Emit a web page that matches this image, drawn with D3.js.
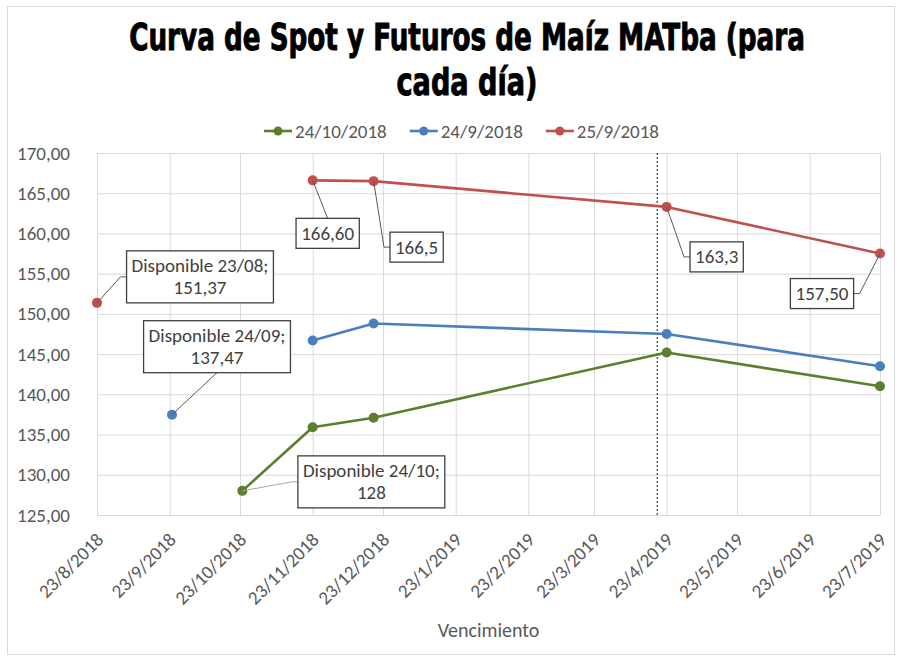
<!DOCTYPE html>
<html>
<head>
<meta charset="utf-8">
<script src="https://cdn.jsdelivr.net/npm/d3@7"></script>
<style>
  body { margin: 0; background: #fff; }
  svg { display: block; }
</style>
</head>
<body>
<div id="chart"></div>
<script>
// datos
const fechas = ["2018-08-23", "2018-09-24", "2018-10-24", "2018-11-23", "2018-12-19", "2019-04-23", "2019-07-23"];
const serie_24_10_2018 = [null, null, 128, 135.9, 137.1, 145.2, 141.0];
const serie_24_9_2018 = [null, 137.47, null, 146.7, 148.8, 147.5, 143.5];
const serie_25_9_2018 = [151.37, null, null, 166.6, 166.5, 163.3, 157.5];
const nombresSeries = ["24/10/2018", "24/9/2018", "25/9/2018"];
const coloresSeries = ["#5b7f2c", "#4a7ebf", "#c0504d"];

const ticksX = ["2018-08-23", "2018-09-23", "2018-10-23", "2018-11-23", "2018-12-23", "2019-01-23",
                "2019-02-23", "2019-03-23", "2019-04-23", "2019-05-23", "2019-06-23", "2019-07-23"];
const ticksY = [125, 130, 135, 140, 145, 150, 155, 160, 165, 170];
const fechaMarca = "2019-04-19"; // linea punteada

// etiquetas: serie, punto, texto
const etiquetas = [
  { serie: 2, i: 0, texto: ["Disponible 23/08;", "151,37"] },
  { serie: 1, i: 1, texto: ["Disponible 24/09;", "137,47"] },
  { serie: 2, i: 3, texto: ["166,60"] },
  { serie: 2, i: 4, texto: ["166,5"] },
  { serie: 0, i: 2, texto: ["Disponible 24/10;", "128"] },
  { serie: 2, i: 5, texto: ["163,3"] },
  { serie: 2, i: 6, texto: ["157,50"] }
];
// posición del centro de cada caja respecto al punto, y lado de la guía
const posEtiquetas = [
  { dx: 103, dy: -26, lado: "left" },
  { dx: 45, dy: -68, lado: "bottom" },
  { dx: 15, dy: 53, lado: "top" },
  { dx: 43, dy: 66, lado: "left" },
  { dx: 129, dy: -9, lado: "left" },
  { dx: 50, dy: 50, lado: "left" },
  { dx: -58, dy: 40, lado: "right" }
];

function drawChart() {
  const width = 899, height = 658;
  const margin = { top: 153, right: 19, bottom: 143, left: 97 };

  const parse = d3.timeParse("%Y-%m-%d");
  const series = [serie_24_10_2018, serie_24_9_2018, serie_25_9_2018].map((vals, k) => ({
    nombre: nombresSeries[k],
    color: coloresSeries[k],
    puntos: vals.map((v, i) => ({ fecha: parse(fechas[i]), valor: v }))
  }));

  const svg = d3.select("#chart").append("svg")
    .attr("width", width)
    .attr("height", height)
    .attr("viewBox", [0, 0, width, height]);

  // marco exterior
  svg.append("rect")
    .attr("x", 7.5).attr("y", 6.5)
    .attr("width", width - 12).attr("height", height - 10)
    .attr("fill", "#fff")
    .attr("stroke", "#d9d9d9");

  const x = d3.scaleTime()
    .domain([parse(ticksX[0]), parse(ticksX[ticksX.length - 1])])
    .range([margin.left, width - margin.right]);
  const y = d3.scaleLinear()
    .domain([ticksY[0], ticksY[ticksY.length - 1]])
    .range([height - margin.bottom, margin.top]);

  const fontTxt = "Carlito, Calibri, 'Open Sans', sans-serif";
  const fs = 19;
  const locale = d3.formatLocale({ decimal: ",", thousands: ".", grouping: [3], currency: ["$", ""] });
  const fmtY = locale.format(".2f");
  const fmtX = d => `${d.getDate()}/${d.getMonth() + 1}/${d.getFullYear()}`;

  // grilla horizontal
  svg.append("g")
    .attr("transform", `translate(${margin.left},0)`)
    .call(d3.axisLeft(y).tickValues(ticksY).tickSize(-(width - margin.left - margin.right)).tickFormat(""))
    .call(g => g.select(".domain").remove())
    .call(g => g.selectAll("line").attr("stroke", "#d9d9d9"));

  // grilla vertical
  svg.append("g")
    .attr("transform", `translate(0,${margin.top})`)
    .call(d3.axisBottom(x).tickValues(ticksX.map(parse)).tickSize(height - margin.top - margin.bottom).tickFormat(""))
    .call(g => g.select(".domain").remove())
    .call(g => g.selectAll("line").attr("stroke", "#d9d9d9"));

  // eje Y
  svg.append("g")
    .attr("transform", `translate(${margin.left - 24},0)`)
    .call(d3.axisLeft(y).tickValues(ticksY).tickSize(0).tickFormat(fmtY))
    .call(g => g.select(".domain").remove())
    .call(g => g.selectAll("text")
      .attr("font-family", fontTxt)
      .attr("font-size", fs)
      .attr("fill", "#595959"));

  // eje X
  svg.append("g")
    .attr("transform", `translate(0,${height - margin.bottom})`)
    .call(d3.axisBottom(x).tickValues(ticksX.map(parse)).tickSize(0).tickFormat(fmtX))
    .call(g => g.select(".domain").remove())
    .call(g => g.selectAll("text")
      .attr("font-family", fontTxt)
      .attr("font-size", fs)
      .attr("fill", "#595959")
      .attr("text-anchor", "end")
      .attr("dy", null)
      .attr("y", 0)
      .attr("transform", "translate(7,26) rotate(-45)"));

  svg.append("text")
    .attr("x", (margin.left + width - margin.right) / 2)
    .attr("y", 637)
    .attr("text-anchor", "middle")
    .attr("font-family", fontTxt)
    .attr("font-size", 20)
    .attr("fill", "#595959")
    .text("Vencimiento");

  // línea punteada
  svg.append("line")
    .attr("x1", x(parse(fechaMarca))).attr("x2", x(parse(fechaMarca)))
    .attr("y1", y.range()[1]).attr("y2", y.range()[0])
    .attr("stroke", "#595959")
    .attr("stroke-width", 1.4)
    .attr("stroke-dasharray", "2,2");

  // series
  const line = d3.line()
    .defined(d => d.valor != null)
    .x(d => x(d.fecha))
    .y(d => y(d.valor));

  const gs = svg.append("g").selectAll("g")
    .data(series)
    .join("g");

  gs.append("path")
    .attr("d", d => line(d.puntos))
    .attr("fill", "none")
    .attr("stroke", d => d.color)
    .attr("stroke-width", 2.6)
    .attr("stroke-linejoin", "round");

  gs.selectAll("circle")
    .data(d => d.puntos.filter(p => p.valor != null).map(p => ({ ...p, color: d.color })))
    .join("circle")
    .attr("cx", d => x(d.fecha))
    .attr("cy", d => y(d.valor))
    .attr("r", 5)
    .attr("fill", d => d.color);

  // etiquetas
  const gl = svg.append("g");
  etiquetas.forEach((e, k) => {
    const p = series[e.serie].puntos[e.i];
    const pos = posEtiquetas[k];
    const px = x(p.fecha), py = y(p.valor);
    const cx = px + pos.dx, cy = py + pos.dy;
    const g = gl.append("g");
    const guia = g.append("path");
    const caja = g.append("rect");
    const t = g.append("text")
      .attr("font-family", fontTxt)
      .attr("font-size", fs)
      .attr("fill", "#404040")
      .attr("text-anchor", "middle");
    const lh = 22;
    e.texto.forEach((s, j) => {
      t.append("tspan")
        .attr("x", cx)
        .attr("y", cy + (j - (e.texto.length - 1) / 2) * lh + 6.5)
        .text(s);
    });
    const bb = t.node().getBBox();
    const w = bb.width + 10, h = e.texto.length * lh + 8;
    const bx = cx - w / 2, by = cy - h / 2;
    caja.attr("x", bx).attr("y", by).attr("width", w).attr("height", h)
      .attr("fill", "#fff")
      .attr("stroke", "#404040")
      .attr("stroke-width", 1.3);
    let d;
    if (pos.lado === "left") d = `M${px},${py}L${bx - 6},${cy}L${bx},${cy}`;
    else if (pos.lado === "right") d = `M${px},${py}L${bx + w + 6},${cy}L${bx + w},${cy}`;
    else if (pos.lado === "top") d = `M${px},${py}L${cx},${by}`;
    else d = `M${px},${py}L${cx},${by + h}`;
    guia.attr("d", d)
      .attr("fill", "none")
      .attr("stroke", e.serie === 0 ? "#a6a6a6" : "#595959")
      .attr("stroke-width", 1);
  });

  // título (condensado a lo ancho del original)
  const titulo = ["Curva de Spot y Futuros de Maíz MATba (para", "cada día)"];
  const anchos = [676, 141];
  titulo.forEach((s, i) => {
    const gt = svg.append("g").attr("transform", `translate(467,${50 + i * 45})`);
    const t = gt.append("text")
      .attr("text-anchor", "middle")
      .attr("font-family", "'Liberation Sans Narrow', 'DejaVu Sans Condensed', 'Liberation Sans', sans-serif")
      .attr("font-weight", "bold")
      .attr("font-size", 37)
      .attr("fill", "#000")
      .attr("stroke", "#000")
      .attr("stroke-width", 0.9)
      .text(s);
    const nat = t.node().getComputedTextLength();
    t.attr("transform", `scale(${anchos[i] / nat},1)`);
  });

  // leyenda
  const ley = svg.append("g").attr("transform", "translate(264,131)");
  let lx = 0;
  series.forEach(s => {
    const it = ley.append("g").attr("transform", `translate(${lx},0)`);
    it.append("line").attr("x1", 0).attr("x2", 28).attr("stroke", s.color).attr("stroke-width", 2.6);
    it.append("circle").attr("cx", 14).attr("r", 4.5).attr("fill", s.color);
    const tx = it.append("text")
      .attr("x", 31).attr("y", 6.5)
      .attr("font-family", fontTxt)
      .attr("font-size", fs)
      .attr("fill", "#595959")
      .text(s.nombre);
    lx += 31 + tx.node().getComputedTextLength() + 23;
  });
}

document.addEventListener('DOMContentLoaded', () => {
  drawChart();
});
</script>
</body>
</html>
